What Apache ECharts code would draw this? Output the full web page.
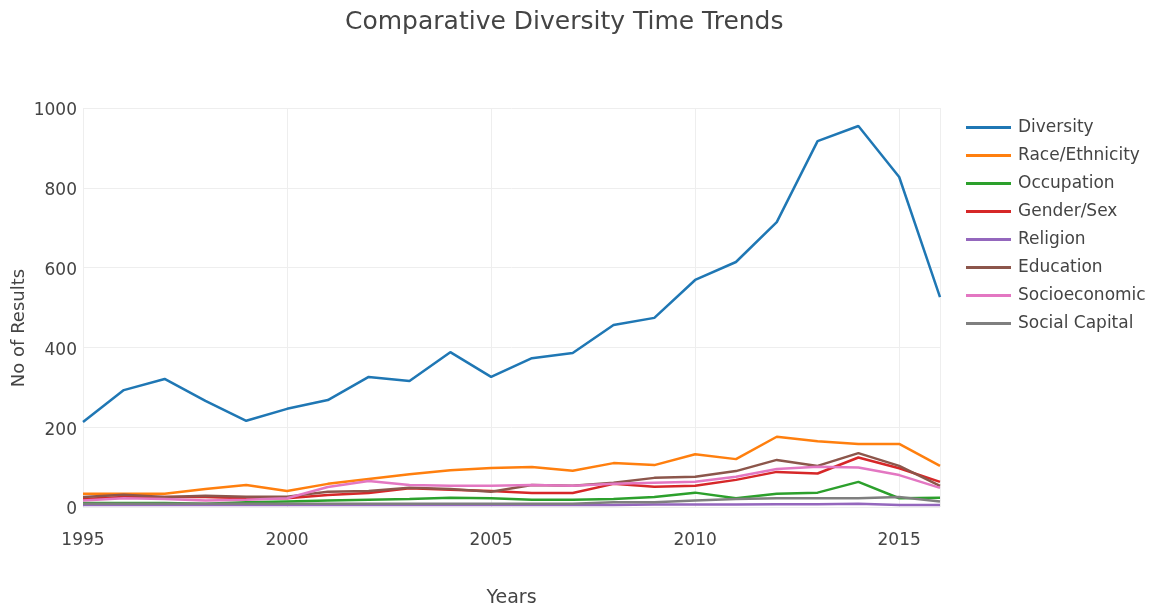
<!DOCTYPE html>
<html>
<head>
<meta charset="utf-8">
<script src="https://cdn.jsdelivr.net/npm/echarts@6/dist/echarts.min.js"></script>
<style>html,body{margin:0;padding:0;background:#fff}#c{width:1156px;height:607px}</style>
</head>
<body>
<div id="c"></div>
<script>
const years = [1995,1996,1997,1998,1999,2000,2001,2002,2003,2004,2005,2006,2007,2008,2009,2010,2011,2012,2013,2014,2015,2016];
const seriesNames = ["Diversity","Race/Ethnicity","Occupation","Gender/Sex","Religion","Education","Socioeconomic","Social Capital"];
const diversity = [213,293,321,266,216,246,268,326,316,388,326,373,386,456,474,569,614,714,917,955,827,526];
const raceEthnicity = [33,33,33,45,55,40,58,70,82,92,98,100,91,110,105,132,120,176,165,158,158,103];
const occupation = [10,10,10,8,12,14,16,18,20,23,22,18,18,20,25,36,22,33,36,63,22,23];
const genderSex = [20,25,25,25,22,22,30,35,47,43,40,35,35,58,51,53,68,88,84,124,97,63];
const religion = [5,5,5,5,5,5,5,5,5,5,5,5,5,5,6,6,6,7,7,8,5,5];
const education = [25,31,25,28,26,26,38,40,48,45,38,55,53,61,73,76,90,118,103,135,103,53];
const socioeconomic = [16,22,20,16,18,22,50,65,55,53,53,55,53,58,61,63,76,95,101,99,80,48];
const socialCapital = [8,8,8,8,8,8,8,8,8,8,8,8,8,12,12,16,20,22,22,22,25,14];
const colors = ["#1f77b4","#ff7f0e","#2ca02c","#d62728","#9467bd","#8c564b","#e377c2","#7f7f7f"];
const allData = [diversity,raceEthnicity,occupation,genderSex,religion,education,socioeconomic,socialCapital];

const font = "'DejaVu Sans', Verdana, sans-serif";
const textColor = '#444';
const chart = echarts.init(document.getElementById('c'));
chart.setOption({
  animation: false,
  color: colors,
  title: {
    text: "Comparative Diversity Time Trends",
    left: 345, top: 10, padding: 0,
    textStyle: {fontFamily: font, fontSize: 25, fontWeight: 'normal', color: textColor}
  },
  legend: {
    orient: 'vertical', left: 966, top: 119, padding: 0,
    icon: 'path://M0,0h45v3h-45z',
    itemWidth: 45, itemHeight: 3, itemGap: 11,
    textStyle: {fontFamily: font, fontSize: 17, lineHeight: 17, color: textColor, padding: [0,0,0,2]},
    data: seriesNames
  },
  grid: {left: 83, right: 216, top: 108, bottom: 100, containLabel: false, outerBoundsMode: 'none'},
  xAxis: {
    type: 'value', min: 1995, max: 2016, interval: 5,
    name: 'Years', nameLocation: 'middle', nameGap: 82,
    nameTextStyle: {fontFamily: font, fontSize: 19, color: textColor},
    axisLine: {show: false}, axisTick: {show: false},
    axisLabel: {fontFamily: font, fontSize: 17, color: textColor, margin: 25, showMaxLabel: false, formatter: v => String(v)},
    splitLine: {show: true, lineStyle: {color: '#eeeeee', width: 1}}
  },
  yAxis: {
    type: 'value', min: 0, max: 1000, interval: 200,
    axisLine: {show: false}, axisTick: {show: false},
    axisLabel: {fontFamily: font, fontSize: 17, color: textColor, margin: 6, verticalAlign: 'top', lineHeight: 6, formatter: v => String(v)},
    splitLine: {show: true, lineStyle: {color: '#eeeeee', width: 1}}
  },
  graphic: [{
    type: 'text', x: 19, y: 328, rotation: Math.PI / 2,
    style: {text: 'No of Results', fontFamily: font, fontSize: 18, fill: textColor, align: 'center', verticalAlign: 'middle'}
  }],
  series: seriesNames.map((n, i) => ({
    name: n, type: 'line', symbol: 'none', clip: false,
    lineStyle: {width: 2.5, color: colors[i]},
    itemStyle: {color: colors[i]},
    data: years.map((y, j) => [y, allData[i][j]])
  }))
});
</script>
</body>
</html>
